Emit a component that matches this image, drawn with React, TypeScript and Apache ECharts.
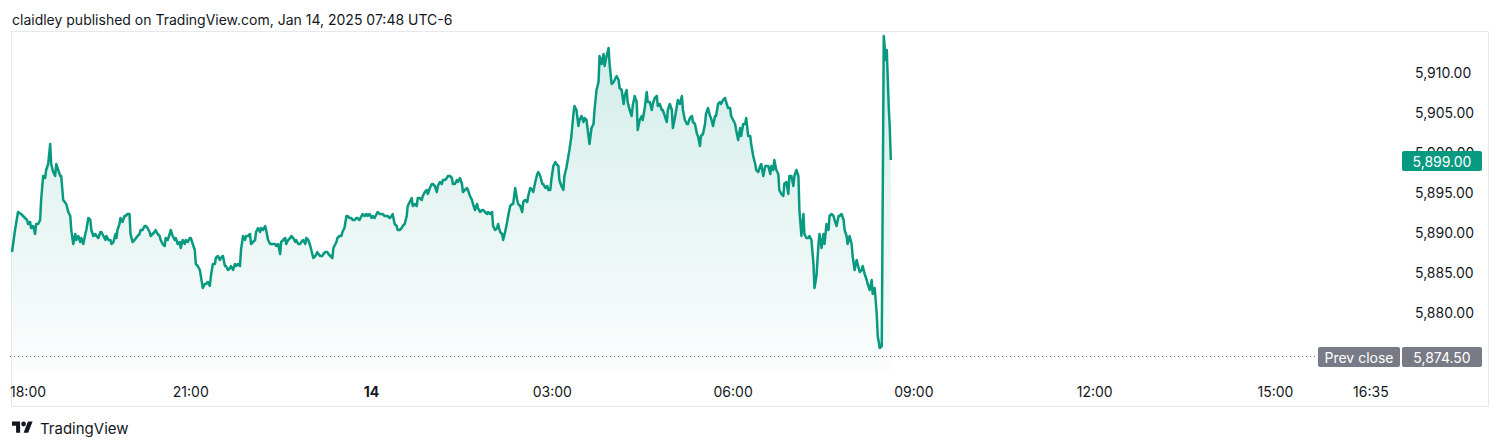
import { useEffect, useRef } from 'react';
import * as echarts from 'echarts';

// Minutes elapsed since the session open (Jan 13, 18:00)
const minutes = [
  2, 5, 8, 11, 13, 15, 17, 18, 20, 21, 23, 25, 26, 28, 30, 31, 33, 35, 36, 38,
  40, 41, 43, 45, 46, 48, 50, 51, 53, 56, 58, 60, 61, 63, 65, 66, 68, 70, 71, 73,
  75, 76, 78, 80, 81, 83, 85, 86, 88, 90, 91, 93, 95, 96, 98, 100, 101, 103, 105, 106,
  107, 109, 110, 112, 114, 115, 117, 119, 120, 122, 124, 127, 129, 130, 132, 134, 135, 137, 139, 140,
  144, 145, 147, 149, 150, 152, 154, 155, 157, 159, 160, 162, 164, 165, 167, 169, 170, 172, 174, 175,
  177, 179, 180, 182, 184, 185, 187, 189, 190, 192, 194, 195, 197, 199, 200, 202, 204, 205, 207, 209,
  210, 212, 214, 215, 217, 219, 220, 222, 224, 225, 227, 229, 230, 232, 234, 235, 237, 239, 240, 242,
  244, 245, 247, 249, 250, 252, 254, 255, 257, 259, 260, 262, 264, 265, 267, 269, 270, 272, 274, 275,
  277, 279, 280, 282, 284, 285, 287, 289, 290, 292, 294, 295, 297,
  299, 301, 302, 304, 306, 307, 309, 311, 312, 314, 316, 317, 319, 321, 322, 324, 325, 326, 328, 330,
  331, 333, 335, 336, 338, 340, 341, 343, 345, 346, 348, 350, 351, 353, 355, 356, 358, 360, 361, 363,
  365, 366, 368, 370, 371, 373, 375, 376, 378, 380, 381, 383, 385, 386, 388, 390, 391, 393, 395, 396,
  398, 400, 401, 403, 405, 406, 408, 410, 411, 413, 415, 416, 418, 420, 421, 423, 425, 426, 428, 430,
  431, 433, 435, 436, 438, 440, 441, 443, 445, 446, 448, 450, 451, 453, 455, 456, 458, 460, 461, 463,
  465, 466, 468, 470, 471, 473, 475, 476, 478, 480, 481, 483, 485, 486, 488, 490, 491, 493, 495, 496,
  498, 500, 501, 503, 505, 506, 508, 510, 511, 513, 515, 516, 518, 520, 521, 523, 525, 526, 528, 530,
  531, 533, 535, 536, 538, 539, 541, 543, 544, 546, 547, 549, 551, 552, 554, 556, 557, 559,
  561, 562, 564, 566, 567, 569, 571, 572, 574, 576, 577, 579, 581, 582, 584, 586,
  587, 589, 591, 592, 594, 596, 597, 599, 601, 602, 604, 606, 607, 609, 611, 612, 614, 615, 617, 619,
  620, 622, 624, 625, 627, 629, 630, 632, 634, 635, 637, 639, 640, 642, 644, 645, 647, 649, 650, 652,
  654, 655, 657, 659, 660, 662, 664, 665, 667, 669, 670, 672, 674, 675, 677, 679, 680, 682, 684, 685,
  687, 688, 690, 692, 693, 695, 697, 698, 700, 702, 703, 705, 707, 708, 710, 712, 713, 715, 717, 718,
  720, 722, 723, 725, 727, 728, 730, 732, 733, 735, 737, 738, 740, 742, 743, 745, 747, 748, 750, 752,
  753, 755, 757, 758, 760, 761, 763, 765, 766, 768, 770, 771, 773, 775, 776, 778, 780, 781, 783, 785,
  786, 788, 790, 791, 793, 795, 796, 798, 800, 801, 803, 805, 806, 808, 810, 811, 813, 815, 816, 818,
  820, 821, 823, 825, 826, 828, 830, 831, 833, 834, 836, 838, 839, 841, 843, 844, 846, 848, 849, 851,
  853, 854, 856, 858, 859, 861, 863, 864, 866, 868,
  870, 871, 872, 873, 874, 875, 876, 877,
];

const prices = [
  5887.5, 5890.25, 5892.5, 5892.25, 5892.0, 5891.75, 5891.5, 5891.0, 5891.25, 5890.5, 5890.75, 5889.75, 5891.0, 5891.0, 5891.5, 5894.0, 5897.0, 5896.75, 5897.75, 5898.5,
  5901.0, 5898.5, 5897.5, 5897.0, 5898.5, 5897.75, 5897.0, 5897.0, 5894.0, 5893.5, 5892.5, 5892.0, 5890.25, 5888.5, 5889.75, 5889.0, 5889.5, 5888.75, 5889.25, 5888.5,
  5889.75, 5890.25, 5891.75, 5891.5, 5890.25, 5889.5, 5889.75, 5889.5, 5889.25, 5890.0, 5890.0, 5889.5, 5889.0, 5889.5, 5889.0, 5889.0, 5888.5, 5888.75, 5889.75, 5889.25,
  5890.25, 5891.0, 5891.75, 5891.25, 5892.0, 5892.0, 5892.25, 5892.25, 5889.75, 5888.75, 5889.0, 5889.5, 5889.75, 5890.25, 5890.25, 5890.75, 5890.75, 5890.5, 5890.0, 5889.5,
  5890.0, 5890.25, 5889.75, 5889.5, 5889.0, 5888.5, 5888.25, 5889.25, 5889.0, 5889.75, 5890.25, 5889.5, 5889.0, 5889.25, 5888.5, 5888.75, 5888.0, 5889.0, 5888.5, 5889.0,
  5888.75, 5889.25, 5889.25, 5888.5, 5887.75, 5886.0, 5885.75, 5885.25, 5884.5, 5883.0, 5883.5, 5883.5, 5883.75, 5883.25, 5884.5, 5886.0, 5886.0, 5886.75, 5887.0, 5886.5,
  5886.75, 5887.0, 5885.75, 5885.75, 5885.25, 5885.5, 5885.75, 5885.25, 5886.0, 5885.75, 5886.0, 5885.75, 5887.75, 5889.5, 5889.0, 5889.5, 5889.5, 5889.75, 5888.5, 5888.75,
  5889.0, 5890.0, 5890.5, 5890.0, 5890.5, 5890.25, 5890.75, 5890.25, 5889.0, 5888.5, 5888.5, 5888.5, 5888.5, 5888.25, 5888.5, 5887.25, 5888.75, 5889.0, 5889.25, 5888.5,
  5889.0, 5889.25, 5889.5, 5889.25, 5888.75, 5889.0, 5888.5, 5888.5, 5888.75, 5889.0, 5888.5, 5889.25, 5889.0,
  5888.25, 5887.25, 5886.75, 5887.0, 5887.5, 5887.25, 5887.0, 5887.0, 5887.25, 5887.5, 5887.5, 5887.25, 5887.0, 5886.75, 5888.0, 5888.5, 5888.75, 5889.25, 5889.5, 5889.5,
  5890.0, 5890.5, 5892.0, 5892.0, 5891.75, 5891.75, 5891.5, 5891.5, 5891.75, 5891.75, 5891.5, 5892.0, 5892.25, 5892.0, 5892.25, 5892.0, 5892.25, 5891.75, 5892.0, 5891.75,
  5892.25, 5892.5, 5892.25, 5892.25, 5892.25, 5892.0, 5892.0, 5892.0, 5891.75, 5892.0, 5892.25, 5891.0, 5890.75, 5890.25, 5890.25, 5890.5, 5890.75, 5891.0, 5892.0, 5893.25,
  5893.75, 5894.25, 5893.25, 5893.5, 5893.25, 5894.25, 5894.25, 5894.0, 5894.5, 5895.0, 5895.25, 5894.75, 5895.5, 5896.0, 5896.0, 5895.75, 5895.0, 5895.75, 5896.25, 5896.0,
  5896.5, 5896.5, 5896.75, 5897.0, 5897.0, 5896.75, 5896.0, 5896.0, 5896.5, 5896.25, 5896.75, 5896.0, 5895.0, 5895.25, 5895.5, 5895.25, 5894.5, 5894.0, 5893.5, 5892.75,
  5893.5, 5893.0, 5892.5, 5892.75, 5892.75, 5892.5, 5892.25, 5892.5, 5892.25, 5892.5, 5890.75, 5890.25, 5890.5, 5891.0, 5890.0, 5889.75, 5889.0, 5890.0, 5891.25, 5892.0,
  5893.25, 5893.5, 5893.5, 5895.5, 5894.0, 5893.5, 5893.25, 5892.5, 5893.75, 5894.0, 5893.75, 5894.5, 5895.5, 5895.25, 5895.0, 5896.25, 5897.25, 5897.5, 5897.0, 5896.0,
  5896.0, 5895.5, 5895.75, 5895.25, 5895.25, 5896.5, 5898.25, 5898.75, 5898.5, 5898.25, 5896.5, 5895.75, 5895.25, 5897.0, 5898.0, 5899.5, 5900.25, 5902.0,
  5904.75, 5905.75, 5905.25, 5903.25, 5904.0, 5904.5, 5903.75, 5904.25, 5904.0, 5902.0, 5901.0, 5903.0, 5903.5, 5905.25, 5907.75, 5908.75,
  5912.0, 5911.0, 5912.25, 5910.75, 5912.0, 5913.0, 5911.0, 5908.5, 5908.75, 5909.0, 5909.5, 5909.0, 5908.0, 5907.75, 5906.0, 5907.0, 5907.75, 5906.25, 5905.25, 5904.5,
  5905.75, 5907.0, 5906.25, 5902.75, 5904.0, 5904.5, 5904.0, 5905.5, 5907.5, 5906.25, 5906.25, 5905.25, 5906.0, 5906.75, 5907.0, 5905.75, 5906.0, 5905.25, 5905.25, 5904.5,
  5903.75, 5905.25, 5906.0, 5905.25, 5903.0, 5904.25, 5905.75, 5906.5, 5906.0, 5907.0, 5905.25, 5904.0, 5903.5, 5903.5, 5904.25, 5904.5, 5903.75, 5903.5, 5902.25, 5902.0,
  5900.75, 5902.0, 5902.25, 5903.5, 5904.75, 5905.5, 5904.5, 5904.25, 5903.25, 5904.5, 5904.5, 5906.0, 5906.25, 5906.0, 5906.5, 5906.75, 5906.25, 5905.5, 5905.5, 5904.5,
  5904.0, 5903.5, 5902.75, 5901.5, 5903.0, 5902.0, 5903.5, 5903.5, 5904.25, 5902.0, 5902.0, 5901.0, 5899.5, 5898.5, 5897.75, 5897.5, 5898.25, 5898.5, 5897.0, 5898.25,
  5898.25, 5898.25, 5897.25, 5898.25, 5897.75, 5899.0, 5897.75, 5897.25, 5895.25, 5894.75, 5894.5, 5896.0, 5896.25, 5894.75, 5897.0, 5897.0, 5895.75, 5897.0, 5897.75, 5897.0,
  5892.75, 5889.5, 5892.25, 5889.75, 5889.25, 5889.25, 5889.5, 5889.0, 5886.0, 5883.0, 5884.5, 5888.5, 5889.75, 5888.0, 5889.75, 5888.5, 5891.0, 5890.25, 5892.0, 5892.25,
  5892.0, 5891.5, 5890.75, 5892.0, 5892.0, 5892.25, 5891.5, 5890.25, 5889.5, 5888.5, 5889.5, 5888.5, 5887.0, 5885.25, 5886.5, 5886.0, 5885.0, 5885.25, 5885.75, 5884.75,
  5884.0, 5883.5, 5882.75, 5884.0, 5882.25, 5883.0, 5879.75, 5877.0, 5875.5, 5875.75,
  5914.5, 5913.0, 5911.5, 5912.75, 5909.0, 5905.5, 5903.0, 5899.0,
];

const timeTickMinutes = [0, 180, 360, 540, 720, 900, 1080, 1260, 1355];
const timeTickLabels = ['18:00', '21:00', '14', '03:00', '06:00', '09:00', '12:00', '15:00', '16:35'];
const priceTicks = [5880, 5885, 5890, 5895, 5900, 5905, 5910];
const prevClose = 5874.5;
const headerText = 'claidley published on TradingView.com, Jan 14, 2025 07:48 UTC-6';
const brandText = 'TradingView';

const GREEN = '#089981';
const GRAY = '#787b86';
const TEXT = '#131722';
const FONT = 'Inter, "Noto Sans", sans-serif';

const LOGO_D =
  'M14 22H7V11H0V4h14v18zM28 22h-8l7.5-18h8L28 22zM24 8a4 4 0 1 1-8 0a4 4 0 1 1 8 0z';
echarts.graphic.registerShape('tvlogo', echarts.graphic.extendPath(LOGO_D, {}) as any);

const fmt = (v: number) =>
  v.toLocaleString('en-US', { minimumFractionDigits: 2, maximumFractionDigits: 2 });

export default function App() {
  const ref = useRef<HTMLDivElement>(null);

  useEffect(() => {
    if (!ref.current) return;
    const chart = echarts.init(ref.current, undefined, { renderer: 'svg' });
    const lastPrice = prices[prices.length - 1];
    const xMax = 1385;

    const staticGraphic: any[] = [
      {
        id: 'frame',
        type: 'rect',
        z: 0,
        shape: { x: 11.5, y: 31.5, width: 1477, height: 375 },
        style: { fill: 'none', stroke: '#e6e8ee', lineWidth: 1 },
        silent: true,
      },
      {
        id: 'header',
        type: 'text',
        x: 12,
        y: 19,
        style: {
          text: headerText,
          fill: TEXT,
          fontSize: 14,
          fontFamily: FONT,
          textAlign: 'left',
          textVerticalAlign: 'middle',
          align: 'left',
          verticalAlign: 'middle',
        },
      },
      {
        id: 'logo',
        type: 'tvlogo',
        x: 12,
        y: 419,
        scaleX: 0.58,
        scaleY: 0.62,
        style: { fill: TEXT },
      },
      {
        id: 'brand',
        type: 'text',
        x: 40,
        y: 428,
        style: {
          text: brandText,
          fill: TEXT,
          fontSize: 15,
          fontFamily: FONT,
          textAlign: 'left',
          textVerticalAlign: 'middle',
          align: 'left',
          verticalAlign: 'middle',
        },
      },
    ];

    chart.setOption({
      animation: false,
      backgroundColor: '#ffffff',
      textStyle: { fontFamily: FONT },
      grid: { left: 10, right: 99, top: 31, bottom: 76, containLabel: false },
      xAxis: {
        type: 'value',
        min: 0,
        max: xMax,
        axisLine: { show: false },
        axisTick: { show: false },
        splitLine: { show: false },
        axisLabel: {
          customValues: timeTickMinutes,
          alignMinLabel: 'left',
          margin: 12,
          color: TEXT,
          fontSize: 14,
          fontFamily: FONT,
          formatter: (v: number) => {
            const i = timeTickMinutes.indexOf(v);
            const label = i >= 0 ? timeTickLabels[i] : '';
            return label === '14' ? '{b|14}' : label;
          },
          rich: {
            b: { fontWeight: 'bold', fontSize: 14, color: TEXT, fontFamily: FONT },
          },
        },
      },
      yAxis: {
        type: 'value',
        position: 'right',
        min: 5872.5,
        max: 5915.125,
        axisLine: { show: false },
        axisTick: { show: false },
        splitLine: { show: false },
        axisLabel: {
          customValues: priceTicks,
          margin: 14,
          color: TEXT,
          fontSize: 14,
          fontFamily: FONT,
          formatter: (v: number) => fmt(v),
        },
      },
      series: [
        {
          type: 'line',
          data: minutes.map((m, i) => [m, prices[i]]),
          showSymbol: false,
          symbol: 'none',
          lineStyle: { color: GREEN, width: 2.5, join: 'round' },
          areaStyle: {
            color: new echarts.graphic.LinearGradient(0, 0, 0, 1, [
              { offset: 0, color: 'rgba(8,153,129,0.26)' },
              { offset: 1, color: 'rgba(8,153,129,0.02)' },
            ]),
          },
          markLine: {
            silent: true,
            symbol: 'none',
            label: { show: false },
            lineStyle: { color: GRAY, type: [1, 3], width: 1 },
            data: [{ yAxis: prevClose }],
          },
        },
      ],
      graphic: staticGraphic,
    });

    const yLast = chart.convertToPixel({ yAxisIndex: 0 }, lastPrice) as number;
    const yPrev = chart.convertToPixel({ yAxisIndex: 0 }, prevClose) as number;
    const xRight = chart.convertToPixel({ xAxisIndex: 0 }, xMax) as number;

    const box = (id: string, x: number, y: number, w: number, fill: string, text: string) => ({
      id,
      type: 'group',
      z: 100,
      children: [
        {
          type: 'rect',
          z: 100,
          shape: { x, y: y - 10, width: w, height: 20, r: 2 },
          style: { fill },
        },
        {
          type: 'text',
          z: 101,
          x: x + w / 2,
          y: y + 0.5,
          style: {
            text,
            fill: '#ffffff',
            fontSize: 14,
            fontFamily: FONT,
            textAlign: 'center',
            textVerticalAlign: 'middle',
            align: 'center',
            verticalAlign: 'middle',
          },
        },
      ],
    });

    chart.setOption({
      graphic: [
        ...staticGraphic,
        box('lastBox', xRight + 1, yLast + 1, 80, GREEN, fmt(lastPrice)),
        box('prevLabel', xRight - 83, yPrev + 1, 82, GRAY, 'Prev close'),
        box('prevBox', xRight + 1, yPrev + 1, 80, GRAY, fmt(prevClose)),
      ],
    });

    return () => {
      chart.dispose();
    };
  }, []);

  return (
    <div
      ref={ref}
      style={{ position: 'absolute', left: 0, top: 0, width: 1500, height: 448, background: '#fff' }}
    />
  );
}
